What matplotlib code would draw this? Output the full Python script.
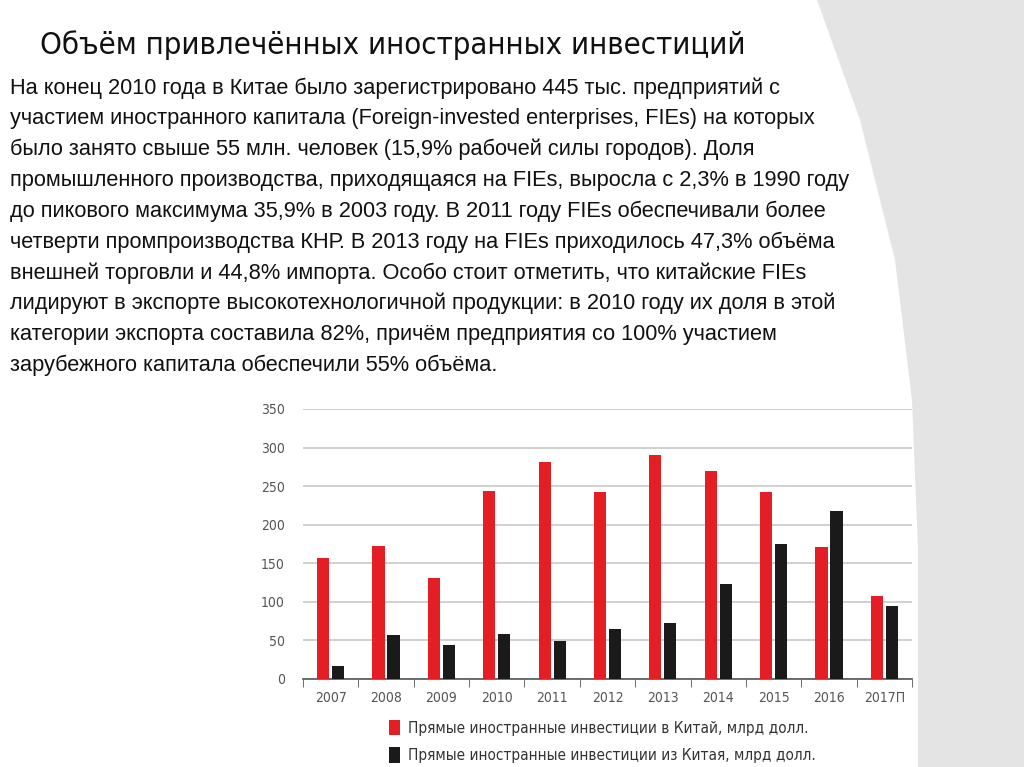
import matplotlib.pyplot as plt
import numpy as np
from matplotlib.patches import Polygon

years = ['2007', '2008', '2009', '2010', '2011', '2012', '2013', '2014', '2015', '2016', '2017П']
fdi_in = [157, 172, 131, 244, 281, 242, 291, 269, 243, 171, 108]
fdi_out = [17, 57, 44, 58, 49, 65, 73, 123, 175, 218, 94]
label_in = 'Прямые иностранные инвестиции в Китай, млрд долл.'
label_out = 'Прямые иностранные инвестиции из Китая, млрд долл.'

title = 'Объём привлечённых иностранных инвестиций'
body = [
    'На конец 2010 года в Китае было зарегистрировано 445 тыс. предприятий с',
    'участием иностранного капитала (Foreign-invested enterprises, FIEs) на которых',
    'было занято свыше 55 млн. человек (15,9% рабочей силы городов). Доля',
    'промышленного производства, приходящаяся на FIEs, выросла с 2,3% в 1990 году',
    'до пикового максимума 35,9% в 2003 году. В 2011 году FIEs обеспечивали более',
    'четверти промпроизводства КНР. В 2013 году на FIEs приходилось 47,3% объёма',
    'внешней торговли и 44,8% импорта. Особо стоит отметить, что китайские FIEs',
    'лидируют в экспорте высокотехнологичной продукции: в 2010 году их доля в этой',
    'категории экспорта составила 82%, причём предприятия со 100% участием',
    'зарубежного капитала обеспечили 55% объёма.',
]

W, H = 1024, 767
fig = plt.figure(figsize=(10.24, 7.67), dpi=100)

# slide decoration on the right
bg = fig.add_axes([0, 0, 1, 1], zorder=-5)
bg.set_xlim(0, W)
bg.set_ylim(H, 0)
bg.axis('off')
bg.add_patch(Polygon([(817, 0), (860, 120), (895, 260), (912, 400), (918, 550), (918, 767),
                      (1024, 767), (1024, 0)], closed=True, fc='#e4e4e4', ec='none'))

fig.text(40 / W, 1 - 45 / H, title, fontsize=22.3, family='DejaVu Sans', stretch='condensed',
         va='center', ha='left', color='#111111')
for i, line in enumerate(body):
    fig.text(10 / W, 1 - (88 + i * 30.8) / H, line, fontsize=15.7, family='Liberation Sans',
             va='center', ha='left', color='#111111')

ax = fig.add_axes([303 / W, 1 - 679 / H, 609 / W, 270 / H])
x = np.arange(len(years))
w = 0.22
b1 = ax.bar(x - 0.135, fdi_in, w, color='#e31e24', label=label_in, zorder=3)
b2 = ax.bar(x + 0.135, fdi_out, w, color='#1a1a1a', label=label_out, zorder=3)

ax.set_xlim(-0.5, len(years) - 0.5)
ax.set_ylim(0, 350)
ax.set_yticks(np.arange(0, 351, 50))
ax.grid(axis='y', color='#c8c8c8', lw=1.2, zorder=0)
ax.set_xticks(x)
ax.set_xticklabels(years)
ax.set_xticks(np.arange(-0.5, len(years), 1), minor=True)
ax.tick_params(axis='x', which='major', length=0, pad=9, labelcolor='#555555', labelsize=10)
ax.tick_params(axis='x', which='minor', length=6, color='#555555', direction='out')
ax.tick_params(axis='y', length=0, pad=13, labelcolor='#555555', labelsize=10)
for lab in ax.get_xticklabels() + ax.get_yticklabels():
    lab.set_family('DejaVu Sans')
    lab.set_stretch('condensed')
for s in ['top', 'right', 'left']:
    ax.spines[s].set_visible(False)
ax.spines['bottom'].set_color('#555555')
ax.spines['bottom'].set_linewidth(1.2)

fig.legend(handles=[b1, b2], loc='upper left', bbox_to_anchor=(384 / W, 1 - 715 / H),
           frameon=False, prop={'family': 'DejaVu Sans', 'stretch': 'condensed', 'size': 11},
           labelcolor='#333333', handlelength=0.75, handleheight=1.2, handletextpad=0.5,
           labelspacing=0.75, borderaxespad=0, borderpad=0.3)

fig.savefig('out.png', dpi=100, facecolor='white')
